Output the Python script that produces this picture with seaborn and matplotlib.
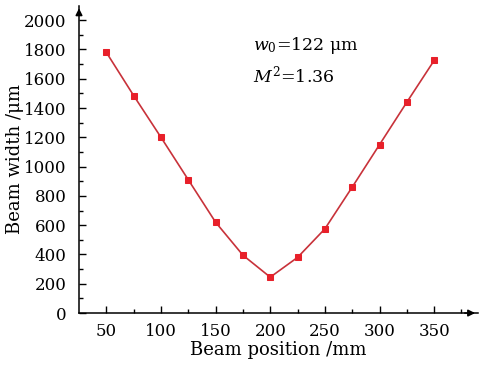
import pandas as pd
import numpy as np
import matplotlib
matplotlib.use('Agg')
import matplotlib.pyplot as plt
import seaborn as sns

# beam caustic measurement
position = [50, 75, 100, 125, 150, 175, 200, 225, 250, 275, 300, 325, 350]
width = [1780, 1485, 1200, 910, 620, 395, 245, 380, 575, 860, 1150, 1440, 1725]
x_ticks = [50, 100, 150, 200, 250, 300, 350]
y_ticks = [0, 200, 400, 600, 800, 1000, 1200, 1400, 1600, 1800, 2000]

sns.set_style("ticks")
plt.rcParams['font.family'] = ['DejaVu Serif']
plt.rcParams['mathtext.fontset'] = 'dejavuserif'
plt.rcParams['text.color'] = 'black'
plt.rcParams['axes.labelcolor'] = 'black'

df = pd.DataFrame({"pos": position, "w": width})

fig = plt.figure(figsize=(4.8, 3.67), dpi=100)
ax = fig.add_axes([0.1646, 0.147, 0.831, 0.838])
sns.lineplot(data=df, x="pos", y="w", ax=ax, color="#c8323a", linewidth=1.2,
             marker="s", markersize=4.5, markerfacecolor="#e8202a",
             markeredgecolor="#e8202a")

ax.set_xlim(25, 390)
ax.set_ylim(0, 2100)
ax.set_xticks(x_ticks)
ax.set_yticks(y_ticks)
ax.set_xticks(np.arange(75, 390, 50), minor=True)
ax.set_yticks(np.arange(100, 2100, 200), minor=True)
ax.tick_params(axis='both', which='major', direction='in', length=5, width=1,
               labelsize=12, colors='black')
ax.tick_params(axis='x', which='major', pad=7)
ax.tick_params(axis='y', which='major', pad=9)
ax.tick_params(axis='both', which='minor', direction='in', length=3, width=1,
               colors='black')
sns.despine(ax=ax)
for s in ["left", "bottom"]:
    ax.spines[s].set_linewidth(1.1)
    ax.spines[s].set_color("black")

# arrow heads on the axes
ax.annotate("", xy=(1.0, 0), xytext=(0.96, 0), xycoords='axes fraction',
            arrowprops=dict(arrowstyle='-|>', color='black', lw=1.1,
                            mutation_scale=10))
ax.annotate("", xy=(0, 1.0), xytext=(0, 0.96), xycoords='axes fraction',
            arrowprops=dict(arrowstyle='-|>', color='black', lw=1.1,
                            mutation_scale=10))

ax.set_xlabel("Beam position /mm", fontsize=13, labelpad=1)
ax.set_ylabel("Beam width /μm", fontsize=13, labelpad=0)

ax.text(0.435, 0.871, r"$w_0$=122 μm", transform=ax.transAxes, fontsize=12.5,
        va='center')
ax.text(0.435, 0.774, r"$M^{\mathregular{2}}$=1.36", transform=ax.transAxes,
        fontsize=12.5, va='center')

fig.savefig("out.png", dpi=100)
